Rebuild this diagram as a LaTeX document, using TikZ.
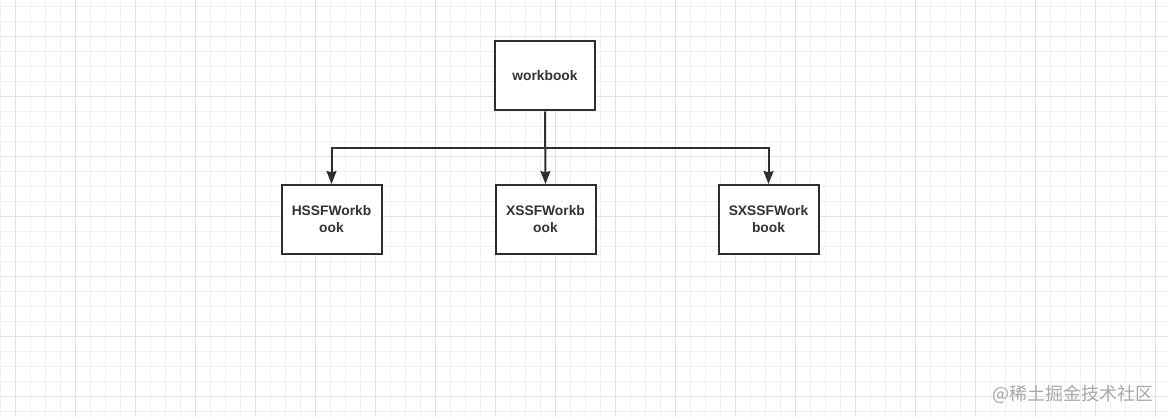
\documentclass[tikz,border=0pt]{standalone}
\usepackage{fontspec}
\setmainfont{Liberation Sans}
\newfontfamily\cjkfont{Noto Sans CJK SC}
\usepackage{tikz}
\usetikzlibrary{
    arrows.meta,
    positioning
}
\usepackage{xcolor}
\definecolor{boxline}{HTML}{2E2E2E}
\definecolor{labelgray}{HTML}{333333}
\definecolor{gridminor}{HTML}{F1F1F1}
\definecolor{gridmajor}{HTML}{E3E3E3}
\definecolor{markgray}{HTML}{A8A8A8}
\tikzstyle{classbox} = [
    rectangle,
    draw=boxline,
    line width=2pt,
    fill=white,
    minimum width=100pt,
    minimum height=69pt,
    align=center,
    text=labelgray,
    font=\fontsize{13.8}{17}\selectfont\bfseries
]
\tikzstyle{arrow} = [
    -{Stealth[length=13pt,width=10pt,inset=1.5pt]},
    line width=2pt,
    draw=boxline
]
\tikzstyle{gridline} = [
    line width=0.8pt,
    draw=gridminor
]

\begin{document}
\begin{tikzpicture}[x=1pt, y=-1pt]
    \useasboundingbox[fill=white] (0,0) rectangle (1168,417);
    % background grid
    \foreach \x in {0.5,15.5,...,1168}
        \draw[gridline] (\x,0) -- (\x,417);
    \foreach \y in {6,21,...,417}
        \draw[gridline] (0,\y) -- (1168,\y);
    \foreach \x in {15.5,75.5,...,1168}
        \draw[gridline, draw=gridmajor] (\x,0) -- (\x,417);
    \foreach \y in {36,96,...,417}
        \draw[gridline, draw=gridmajor] (0,\y) -- (1168,\y);

    \node[classbox] (workbook) at (545,76) {workbook};
    \node[classbox] (hssf) at (331.5,219.5) {HSSFWorkb\\ook};
    \node[classbox] (xssf) at (545.5,219.5) {XSSFWorkb\\ook};
    \node[classbox] (sxssf) at (768.5,219.5) {SXSSFWork\\book};

    \coordinate (split) at (545,148);
    \draw[arrow] (workbook.south) -- (xssf.north);
    \draw[arrow] (split) -| (hssf.north);
    \draw[arrow] (split) -| (sxssf.north);

    \node[text=markgray, font=\cjkfont\fontsize{18}{20}\selectfont] (mark) at (1073,394) {@稀土掘金技术社区};
\end{tikzpicture}
\end{document}
